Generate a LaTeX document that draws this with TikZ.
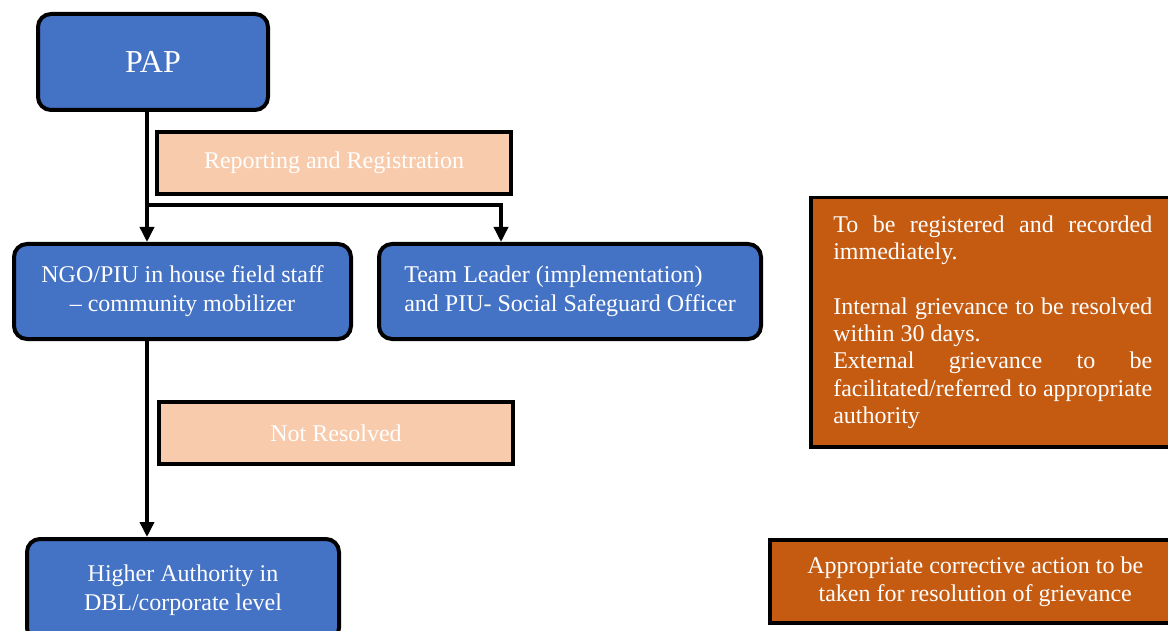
\documentclass[tikz,border=0pt]{standalone}
\usepackage{fontspec}
\setmainfont{Liberation Serif}
\usetikzlibrary{arrows.meta}
\definecolor{bleu}{HTML}{4472C4}
\definecolor{peche}{HTML}{F8CBAD}
\definecolor{rouille}{HTML}{C55A11}
\setlength{\parindent}{0pt}
\hyphenpenalty=10000
\begin{document}
\begin{tikzpicture}[x=1pt,y=-1pt]
            \tikzstyle{boite}=[draw,line width=4pt,rounded corners=13pt,fill=bleu,text=white,font=\fontsize{24}{29}\selectfont,align=center,anchor=north west,inner sep=0pt]
            \tikzstyle{etiquette}=[draw,line width=4pt,fill=peche,text=white,font=\fontsize{24}{29}\selectfont,anchor=north west,inner sep=0pt]
            \tikzstyle{note}=[draw,line width=3.5pt,fill=rouille,text=white,font=\fontsize{24}{27.3}\selectfont,anchor=north west]
            \tikzstyle{fleche}=[line width=3.5pt,-{Triangle[width=14pt,length=15pt]}]
            \useasboundingbox (0,0) rectangle (1168,631);
            \node[boite,minimum width=230pt,minimum height=96pt,font=\fontsize{32}{38}\selectfont] (pap) at (36,12) {PAP};
            \node[etiquette,minimum width=354pt,minimum height=62pt] (rapport) at (155,130) {Reporting and Registration};
            \node[boite,minimum width=337pt,minimum height=95pt] (ngo) at (12,242) {NGO/PIU in house field staff\\ -- community mobilizer};
            \node[boite,minimum width=382pt,minimum height=95pt,align=left] (chef) at (377,242) {Team Leader (implementation)\\and PIU- Social Safeguard Officer};
            \node[etiquette,minimum width=354pt,minimum height=62pt] (nonres) at (157,400) {Not Resolved};
            \node[boite,minimum width=312pt,minimum height=102pt] (sup) at (25,537) {Higher Authority in\\DBL/corporate level};
            \node[note,text width=319pt,inner xsep=22.5pt,minimum height=249pt,align=justify] (note1) at (809,196) {To be registered and recorded immediately.\\[27.3pt]Internal grievance to be resolved within 30 days.\\External grievance to be facilitated/referred to appropriate authority};
            \node[note,minimum width=411pt,minimum height=83pt,align=center,inner sep=0pt,text depth=4pt] (note2) at (768,538) {Appropriate corrective action to be\\taken for resolution of grievance};
            \coordinate (x1) at (147,0);
            \coordinate (x2) at (501,0);
            \coordinate (b) at (147,205);
            \draw[fleche] (pap.south -| x1) -- (ngo.north -| x1);
            \draw[fleche] (b) -| (chef.north -| x2);
            \draw[fleche] (ngo.south -| x1) -- (sup.north -| x1);
        \end{tikzpicture}
\end{document}
